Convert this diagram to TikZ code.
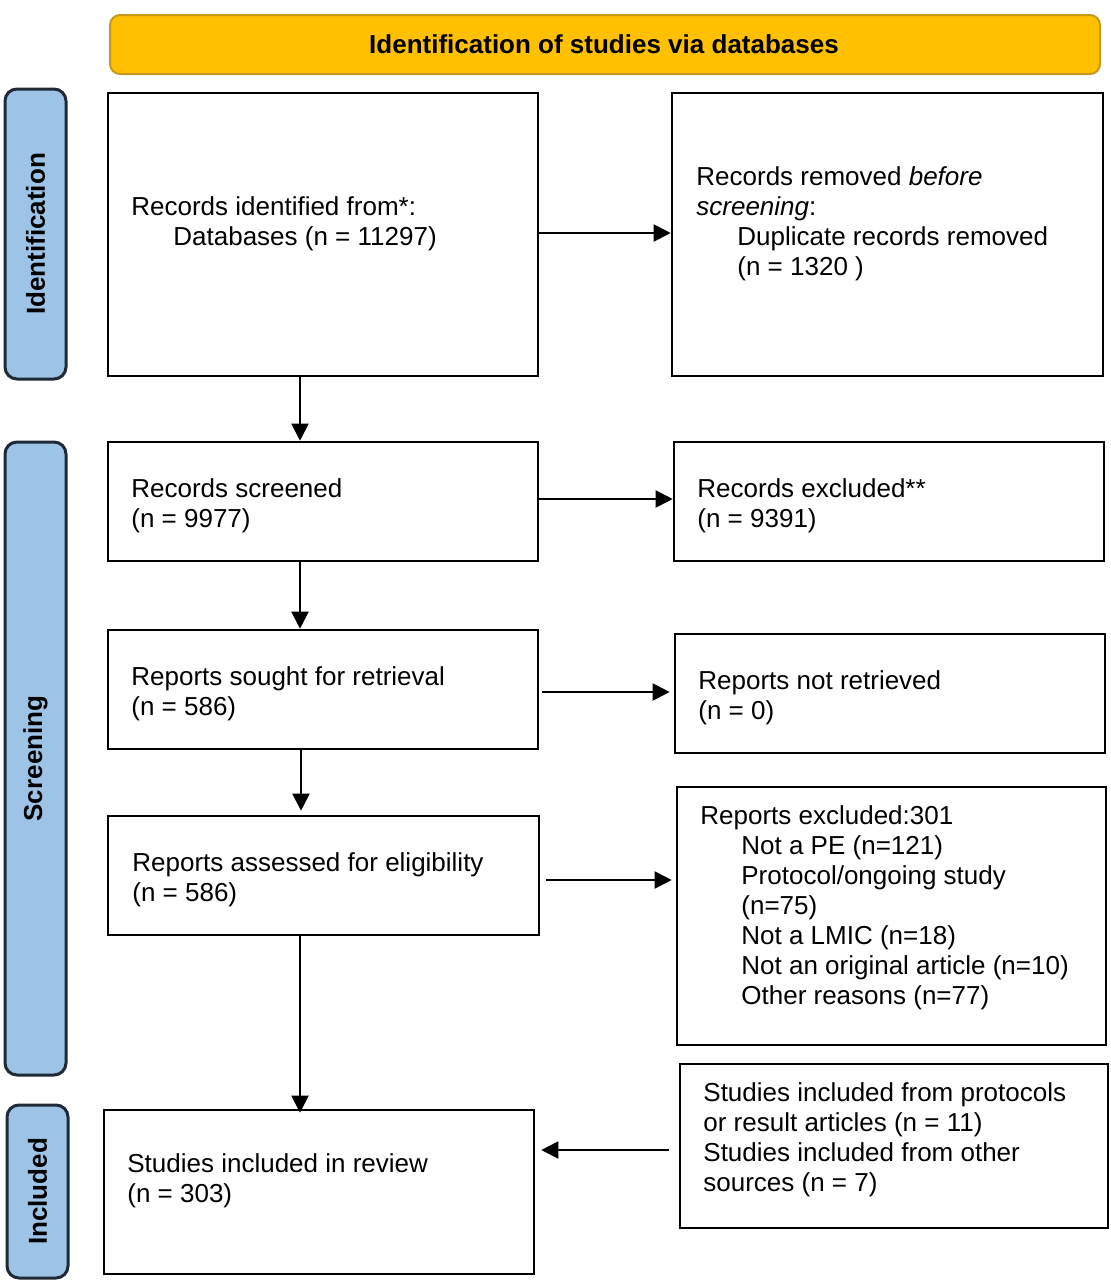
\documentclass[tikz,border=0pt]{standalone}
\usepackage{fontspec}
\setmainfont{Liberation Sans}
\usetikzlibrary{fit,arrows.meta}
\definecolor{hdrfill}{HTML}{FFC000}
\definecolor{hdrline}{HTML}{C49A1C}
\definecolor{sidefill}{HTML}{9DC3E6}
\definecolor{sideline}{HTML}{1F2A36}
\tikzset{
  box/.style={draw=black, line width=1.3pt, inner sep=0pt},
  hdr/.style={draw=hdrline, fill=hdrfill, line width=1pt, rounded corners=5pt, inner sep=0pt},
  side/.style={draw=sideline, fill=sidefill, line width=1.5pt, rounded corners=6pt, inner sep=0pt},
  txt/.style={anchor=north west, inner sep=0pt, align=left, font=\fontsize{13pt}{15pt}\selectfont},
  boldtxt/.style={inner sep=0pt, font=\fontsize{13pt}{15pt}\selectfont\bfseries},
  arr/.style={line width=1pt, -{Triangle[length=8.5pt,width=8.5pt]}}
}
\begin{document}
\begin{tikzpicture}[x=0.5pt,y=-0.5pt]
\useasboundingbox (0,0) rectangle (1111,1280);
% header
\node[hdr, fit={(110,15) (1100,74)}] (hdr) {};
\node[boldtxt] (hdrt) at (604,44) {Identification of studies via databases};
% side bars
\node[side, fit={(5,89) (66,379)}] (s1) {};
\node[side, fit={(5,442) (66,1075)}] (s2) {};
\node[side, fit={(7,1105) (68,1278)}] (s3) {};
\node[boldtxt, rotate=90] (s1t) at (s1.center) {Identification};
\node[boldtxt, rotate=90] (s2t) at (s2.center) {Screening};
\node[boldtxt, rotate=90] (s3t) at (s3.center) {Included};
% boxes
\node[box, fit={(108,93) (538,376)}] (b1) {};
\node[box, fit={(672,93) (1103,376)}] (b2) {};
\node[box, fit={(108,442) (538,561)}] (b3) {};
\node[box, fit={(674,442) (1104,561)}] (b4) {};
\node[box, fit={(108,630) (538,749)}] (b5) {};
\node[box, fit={(675,634) (1105,753)}] (b6) {};
\node[box, fit={(108,816) (539,935)}] (b7) {};
\node[box, fit={(677,787) (1106,1045)}] (b8) {};
\node[box, fit={(104,1110) (534,1274)}] (b9) {};
\node[box, fit={(680,1064) (1108,1228)}] (b10) {};
% texts
\node[txt] (t1) at (131,196) {Records identified from*:\\\hspace{21pt}Databases (n = 11297)};
\node[txt] (t2) at (696,166) {Records removed \textit{before}\\\textit{screening}:\\\hspace{20.5pt}Duplicate records removed\\\hspace{20.5pt}(n = 1320 )};
\node[txt] (t3) at (131,478) {Records screened\\(n = 9977)};
\node[txt] (t4) at (697,478) {Records excluded**\\(n = 9391)};
\node[txt] (t5) at (131,666) {Reports sought for retrieval\\(n = 586)};
\node[txt] (t6) at (698,670) {Reports not retrieved\\(n = 0)};
\node[txt] (t7) at (132,852) {Reports assessed for eligibility\\(n = 586)};
\node[txt] (t8) at (700,805) {Reports excluded:301\\\hspace{20.5pt}Not a PE (n=121)\\\hspace{20.5pt}Protocol/ongoing study\\\hspace{20.5pt}(n=75)\\\hspace{20.5pt}Not a LMIC (n=18)\\\hspace{20.5pt}Not an original article (n=10)\\\hspace{20.5pt}Other reasons (n=77)};
\node[txt] (t9) at (127,1153) {Studies included in review\\(n = 303)};
\node[txt] (t10) at (703,1082) {Studies included from protocols\\or result articles (n = 11)\\Studies included from other\\sources (n = 7)};
% connectors
\coordinate (ax) at (300,0);
\draw[arr] (b1.east |- 0,233) -- (b2.west |- 0,233);
\draw[arr] (b1.south -| ax) -- (b3.north -| ax);
\draw[arr] (b3.east |- 0,499) -- (b4.west |- 0,499);
\draw[arr] (b3.south -| ax) -- (b5.north -| ax);
\draw[arr] ([xshift=1.5pt]b5.east |- 0,692) -- ([xshift=-2pt]b6.west |- 0,692);
\draw[arr] ([xshift=0.5pt]b5.south -| ax) -- ([xshift=0.5pt,yshift=2pt]b7.north -| ax);
\draw[arr] ([xshift=3pt]b7.east |- 0,880) -- ([xshift=-2pt]b8.west |- 0,880);
\draw[arr] (b7.south -| ax) -- ([yshift=-2pt]b9.north -| ax);
\draw[arr] ([xshift=-5pt]b10.west |- 0,1150) -- ([xshift=3pt]b9.east |- 0,1150);
\end{tikzpicture}
\end{document}
